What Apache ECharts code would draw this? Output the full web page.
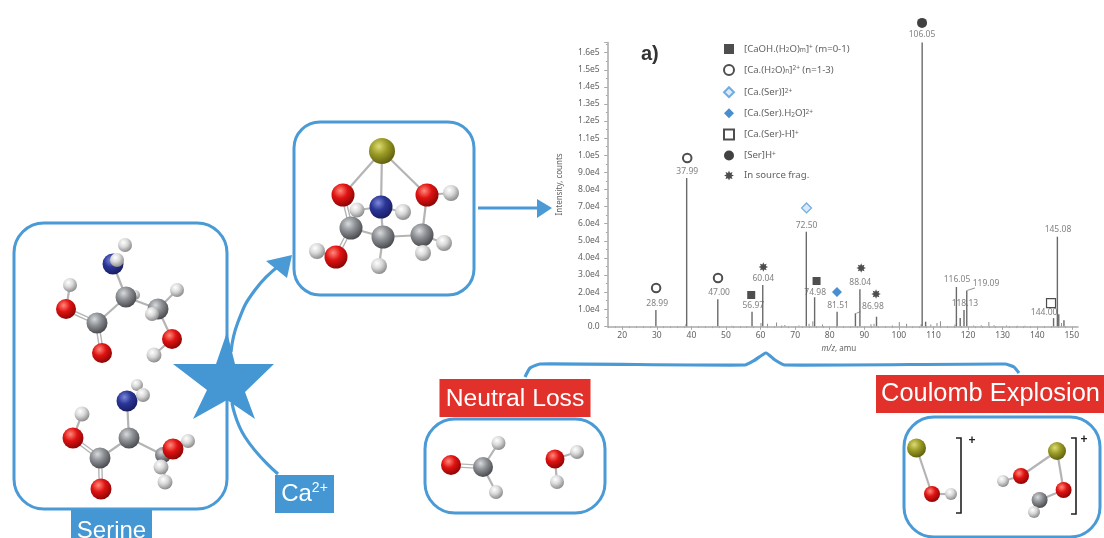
<!DOCTYPE html>
<html><head><meta charset="utf-8">
<style>html,body{margin:0;padding:0;background:#fff}#c{width:1104px;height:538px;filter:blur(0.4px)}</style>
<script src="https://cdn.jsdelivr.net/npm/echarts@6/dist/echarts.min.js"></script>
</head><body><div id="c"></div>
<script>
// ---------- spectrum values ----------
const peakMz =        [29.9,38.8,47.8,57.7,60.8,73.4,75.8,82.3,87.6,88.9,93.7,106.9,107.9,116.8,117.9,119.0,119.8,144.9,146.0,146.4,147.9];
const peakIntensity = [9500,86700,15800,8500,24100,55300,17000,8500,7600,21600,5600,166000,2700,23000,4800,9500,21000,4800,52400,7000,3500];
const noiseMz =        [38.2,51.5,59.9,61.8,64.4,65.9,66.8,70.9,73.8,74.9,77.7,91.7,92.6,97.9,99.9,102,106.2,109,110.8,111.8,116,121.4,123.6,125.8,127.3,130.9,134.1,136.2,146.8];
const noiseIntensity = [1200,300,2000,1500,2200,500,800,500,1500,3000,1000,1200,1500,500,2500,1500,1200,1000,2000,3000,1000,500,600,2500,600,500,300,300,2000];
const labelText = ['28.99','37.99','47.00','56.97','60.04','72.50','74.98','81.51','88.04','86.98','106.05','116.05','118.13','119.09','144.00','145.08'];
const labelMz =   [30.1,38.8,48.0,57.9,60.8,73.3,75.8,82.4,88.8,92.5,106.7,116.8,119.1,125.2,142.0,146.0];
const labelY =    [13000,90200,19500,11900,27700,58700,20000,11900,25300,11300,170400,27100,13000,24700,7800,56300];
const squareMarks =  [[57.3,18300],[76.2,26500]];
const ringMarks =    [[29.8,22400],[38.8,98400],[47.7,28200]];
const openDiamond =  [[73.3,69200]];
const solidDiamond = [[82.1,20000]];
const openSquare =   [[144.0,13600]];
const solidCircle =  [[106.7,177400]];
const burstMarks =   [[60.8,34700],[89.1,34100],[93.4,18900]];
const yTickLabels = ['0.0','1.0e4','2.0e4','3.0e4','4.0e4','5.0e4','6.0e4','7.0e4','8.0e4','9.0e4','1.0e5','1.1e5','1.2e5','1.3e5','1.4e5','1.5e5','1.6e5'];
const xMajorTicks = [20,30,40,50,60,70,80,90,100,110,120,130,140,150];
const xMinorTicks = [16,18,22,24,26,28,32,34,36,38,42,44,46,48,52,54,56,58,62,64,66,68,72,74,76,78,82,84,86,88,92,94,96,98,102,104,106,108,112,114,116,118,122,124,126,128,132,134,136,138,142,144,146,148];
const legendNames = ['[CaOH.(H2O)m]+ (m=0-1)','[Ca.(H2O)n]2+ (n=1-3)','[Ca.(Ser)]2+','[Ca.(Ser).H2O]2+','[Ca.(Ser)-H]+','[Ser]H+','In source frag.'];
const legendRich = ['[CaOH.(H{s|2}O){s|m}]{u|+} (m=0-1)','[Ca.(H{s|2}O){s|n}]{u|2+} (n=1-3)','[Ca.(Ser)]{u|2+}','[Ca.(Ser).H{s|2}O]{u|2+}','[Ca.(Ser)-H]{u|+}','[Ser]H{u|+}','In source frag.'];

// ---------- molecule diagrams (page pixels): [x, y, radius, element] ----------
const molecules = [
 {atoms:[[135,295,5,'H'],[125,245,7,'H'],[113,264,10.5,'N'],[117,260,7,'H'],[126,297,10.5,'C'],[97,323,10.5,'C'],[66,309,10,'O'],[70,285,7,'H'],[102,353,10,'O'],[158,309,10.5,'C'],[152,314,7,'H'],[177,290,7,'H'],[172,339,10,'O'],[154,355,7.5,'H']],
  bonds:[[2,4],[4,5],[5,6,1],[6,7],[5,8,1],[4,9],[9,11],[9,12],[12,13],[4,0]]},
 {atoms:[[137,385,6,'H'],[127,401,10.5,'N'],[143,395,7,'H'],[82,414,7.5,'H'],[73,438,10.5,'O'],[100,458,10.5,'C'],[101,489,10.5,'O'],[129,438,10.5,'C'],[163,455,8,'C'],[188,441,7,'H'],[173,449,10.5,'O'],[161,467,7.5,'H'],[165,482,7.5,'H']],
  bonds:[[1,7],[3,4],[4,5,1],[5,6,1],[5,7],[7,8],[8,10],[10,9],[8,11],[8,12]]},
 {atoms:[[382,151,13,'Ca'],[343,195,11.5,'O'],[427,195,11.5,'O'],[451,193,8,'H'],[357,210,7.5,'H'],[381,207,11.5,'N'],[403,212,8,'H'],[351,228,11.5,'C'],[383,237,11.5,'C'],[422,235,11.5,'C'],[317,251,8,'H'],[336,257,11.5,'O'],[379,266,8,'H'],[423,253,8,'H'],[444,243,8,'H']],
  bonds:[[0,1],[0,2],[0,5],[2,3],[2,9],[1,7,1],[5,8],[7,8],[8,9],[7,11,1],[11,10],[8,12],[9,13],[9,14],[5,4],[5,6]]},
 {atoms:[[451,465,10,'O'],[483,467,10,'C'],[498.5,443,7,'H'],[496,492,7,'H'],[555,459,9.5,'O'],[577,452,7,'H'],[557,482,7,'H']],
  bonds:[[0,1,1],[1,2],[1,3],[4,5],[4,6]]},
 {atoms:[[916.5,448,9.5,'Ca'],[932,494,8,'O'],[951,494,6,'H'],[1057,451,9,'Ca'],[1021,476,8,'O'],[1003,481,6,'H'],[1063.6,490,8,'O'],[1039.6,500,8,'C'],[1034,512,6,'H']],
  bonds:[[0,1],[1,2],[3,4],[4,5],[3,6],[6,7],[7,8]]}
];
const starOutline = [[227,332],[235,364],[274,364],[245,392],[255,419],[227,400],[193,419],[207,390],[173,364],[216,364]];
const bondSegs = [], atomList = [];
molecules.forEach(m=>{
  m.bonds.forEach(b=>{const p=m.atoms[b[0]],q=m.atoms[b[1]];bondSegs.push([p[0],p[1],q[0],q[1],b[2]||0]);});
  m.atoms.forEach(a=>atomList.push(a));
});
const atomColors = {H:['#ffffff','#d9d9d9','#858585'],C:['#d8dadc','#8b8e92','#44464a'],O:['#ff8a7a','#e01212','#860505'],N:['#7d88dc','#2b3596','#171c60'],Ca:['#dcdc74','#9b9b26','#5c5c0e']};

const blue='#4a9ad6', fBlue='#4497d3', red='#e2302b', axisGray='#a9a9a9', txt='#626262';
const font='"Noto Sans", sans-serif', hel='"Liberation Sans", Arial, sans-serif';
const burst='path://M50 0 L60 24 L85 15 L76 40 L100 50 L76 60 L85 85 L60 76 L50 100 L40 76 L15 85 L24 60 L0 50 L24 40 L15 15 L40 24 Z';

function marks(name,data,symbol,size,style){
  return {name,type:'scatter',xAxisIndex:0,yAxisIndex:0,data,symbol,symbolSize:size,itemStyle:style,clip:false,z:5,silent:true};
}
function frame(x,y,w,h,r){return {type:'rect',shape:{x,y,width:w,height:h,r},style:{fill:'none',stroke:blue,lineWidth:3}};}
function box(x,y,w,h,fill){return {type:'rect',shape:{x,y,width:w,height:h},style:{fill}};}
function bracket(x,y1,y2){return {type:'polyline',shape:{points:[[x-5,y1],[x,y1],[x,y2],[x-5,y2]]},style:{fill:'none',stroke:'#222',lineWidth:1.6}};}
function sketch(points,smooth){return {type:'polyline',shape:{points,smooth:smooth||0},style:{fill:'none',stroke:blue,lineWidth:3.2}};}
function poly(points,fill){return {type:'polygon',shape:{points},style:{fill}};}
function plain(x,y,text,size,color,extra){return {type:'text',style:Object.assign({x,y,text,font:size+'px '+hel,fill:color,textAlign:'center',textVerticalAlign:'middle'},extra||{})};}

const chart = echarts.init(document.getElementById('c'),null,{renderer:'canvas'});
chart.setOption({
  animation:false,
  backgroundColor:'#fff',
  title:{text:'a)',left:641,top:44,padding:0,textStyle:{fontFamily:hel,fontWeight:'bold',fontSize:20,color:'#333'}},
  legend:{
    data:legendNames,left:723,top:44,orient:'vertical',itemWidth:10,itemHeight:10,itemGap:10.1,selectedMode:false,padding:0,
    formatter:n=>legendRich[legendNames.indexOf(n)],
    textStyle:{fontFamily:font,fontSize:9.6,color:txt,padding:[0,0,0,5],rich:{s:{fontSize:6.5,fontFamily:font,color:txt,verticalAlign:'bottom'},u:{fontSize:6.5,fontFamily:font,color:txt,verticalAlign:'top'}}}
  },
  grid:[
    {left:607.7,top:42.4,width:470.3,height:283.9,containLabel:false},
    {left:0,top:0,width:1104,height:538,containLabel:false}
  ],
  xAxis:[
    {type:'value',gridIndex:0,min:15.8,max:151.8,position:'bottom',splitLine:{show:false},
     axisLine:{onZero:false,lineStyle:{color:axisGray,width:1.5}},
     axisTick:{customValues:xMajorTicks,length:3.5,lineStyle:{color:axisGray}},
     axisLabel:{customValues:xMajorTicks,margin:5,fontFamily:font,fontSize:8.5,color:txt},
     name:'{i|m/z}, amu',nameLocation:'middle',nameGap:17,
     nameTextStyle:{fontFamily:font,fontSize:8,color:txt,padding:[0,0,0,-8],rich:{i:{fontStyle:'italic',fontFamily:font,fontSize:8,color:txt}}}},
    {type:'value',gridIndex:0,min:15.8,max:151.8,position:'bottom',splitLine:{show:false},
     axisLine:{show:false,onZero:false},axisLabel:{show:false},
     axisTick:{customValues:xMinorTicks,length:1.8,lineStyle:{color:axisGray}}},
    {type:'value',gridIndex:1,min:0,max:1104,show:false}
  ],
  yAxis:[
    {type:'value',gridIndex:0,min:0,max:166000,interval:10000,splitLine:{show:false},
     axisLine:{show:true,lineStyle:{color:axisGray,width:1.5}},
     axisTick:{show:true,length:3.5,lineStyle:{color:axisGray}},
     minorTick:{show:true,splitNumber:2,length:1.8,lineStyle:{color:axisGray}},
     axisLabel:{margin:8,fontFamily:font,fontSize:8.5,color:txt,formatter:v=>yTickLabels[v/10000]||''},
     name:'Intensity, counts',nameLocation:'middle',nameGap:44,nameTextStyle:{fontFamily:font,fontSize:8,color:txt}},
    {type:'value',gridIndex:1,min:0,max:538,inverse:true,show:false}
  ],
  graphic:{elements:[
    frame(14,223,213,286,30),
    frame(294,122,180,173,26),
    frame(425,419,180,94,30),
    frame(904,417,196,120,30),
    sketch([[231,352],[238,322],[255,290],[280,265]],0.5),
    poly([[292,255],[266,261],[287,278]],blue),
    sketch([[232,403],[245,437],[278,474]],0.5),
    sketch([[478,208],[537,208]]),
    poly([[537,199],[552,208],[537,218]],blue),
    sketch([[525,377],[530,368],[540,364],[745,365],[755,360],[766,353],[775,360],[785,365],[1005,364],[1014,367],[1019,373]],0.15),
    poly(starOutline,fBlue),
    box(71,510,81,28,fBlue),
    plain(111.5,531,'Serine',24,'#fff'),
    box(275,475,59,38,fBlue),
    {type:'text',style:{x:304.5,y:494,text:'Ca{u|2+}',font:'24px '+hel,fill:'#fff',align:'center',verticalAlign:'middle',rich:{u:{fontSize:14,fontFamily:hel,fill:'#fff',verticalAlign:'top',lineHeight:26}}}},
    box(439.5,379,151,38,red),
    plain(515,399,'Neutral Loss',24.7,'#fff'),
    box(876,375,228,38,red),
    plain(990.5,394,'Coulomb Explosion',25.4,'#fff'),
    bracket(961,438,513),
    plain(972,441,'+',15,'#222',{fontWeight:'bold'}),
    bracket(1076,438,514),
    plain(1084,440,'+',13,'#222',{fontWeight:'bold'})
  ]},
  series:[
    {type:'custom',xAxisIndex:2,yAxisIndex:1,clip:false,silent:true,z:3,data:bondSegs,
     renderItem:(p,api)=>{
       const a=api.coord([api.value(0),api.value(1)]),b=api.coord([api.value(2),api.value(3)]);
       const dbl=api.value(4),dx=b[0]-a[0],dy=b[1]-a[1],l=Math.hypot(dx,dy)||1,nx=-dy/l*1.6,ny=dx/l*1.6;
       const st={stroke:'#b4b4b4',lineWidth:dbl?1.4:2.2,fill:'none'};
       if(!dbl) return {type:'line',shape:{x1:a[0],y1:a[1],x2:b[0],y2:b[1]},style:st};
       return {type:'group',children:[
         {type:'line',shape:{x1:a[0]+nx,y1:a[1]+ny,x2:b[0]+nx,y2:b[1]+ny},style:st},
         {type:'line',shape:{x1:a[0]-nx,y1:a[1]-ny,x2:b[0]-nx,y2:b[1]-ny},style:st}]};
     }},
    {type:'custom',xAxisIndex:2,yAxisIndex:1,clip:false,silent:true,z:4,data:atomList,
     renderItem:(p,api)=>{
       const c=api.coord([api.value(0),api.value(1)]),e=atomList[p.dataIndex][3],col=atomColors[e];
       return {type:'circle',shape:{cx:c[0],cy:c[1],r:api.value(2)},
         style:{fill:new echarts.graphic.RadialGradient(0.38,0.32,0.72,[{offset:0,color:col[0]},{offset:0.45,color:col[1]},{offset:1,color:col[2]}])}};
     }},
    {type:'bar',xAxisIndex:0,yAxisIndex:0,barWidth:1.4,silent:true,z:3,itemStyle:{color:'#6a6a6a'},
     data:peakMz.map((m,i)=>[m,peakIntensity[i]])},
    {type:'bar',xAxisIndex:0,yAxisIndex:0,barWidth:1,silent:true,z:2,itemStyle:{color:'#8c8c8c'},
     data:noiseMz.map((m,i)=>[m,noiseIntensity[i]])},
    {type:'scatter',xAxisIndex:0,yAxisIndex:0,symbolSize:0,clip:false,silent:true,z:6,
     data:labelText.map((t,i)=>({name:t,value:[labelMz[i],labelY[i]]})),
     label:{show:true,position:'inside',formatter:'{b}',fontFamily:font,fontSize:8.5,color:txt}},
    {type:'custom',xAxisIndex:0,yAxisIndex:0,clip:false,silent:true,z:4,
     data:[[87.7,7600,88.9,8600],[119.8,21000,122,22400]],
     renderItem:(p,api)=>{
       const a=api.coord([api.value(0),api.value(1)]),b=api.coord([api.value(2),api.value(3)]);
       return {type:'line',shape:{x1:a[0],y1:a[1],x2:b[0],y2:b[1]},style:{stroke:'#777',lineWidth:0.8}};
     }},
    marks(legendNames[0],squareMarks,'rect',8,{color:'#222'}),
    marks(legendNames[1],ringMarks,'circle',8.5,{color:'#fff',borderColor:'#222',borderWidth:2}),
    marks(legendNames[2],openDiamond,'diamond',10,{color:'#cfe4f6',borderColor:'#4f9ad8',borderWidth:1.2}),
    marks(legendNames[3],solidDiamond,'diamond',10,{color:'#1a72c4'}),
    marks(legendNames[4],openSquare,'rect',9,{color:'#fff',borderColor:'#222',borderWidth:1.2}),
    marks(legendNames[5],solidCircle,'circle',10,{color:'#111'}),
    marks(legendNames[6],burstMarks,burst,9.5,{color:'#222'})
  ]
});
</script></body></html>
